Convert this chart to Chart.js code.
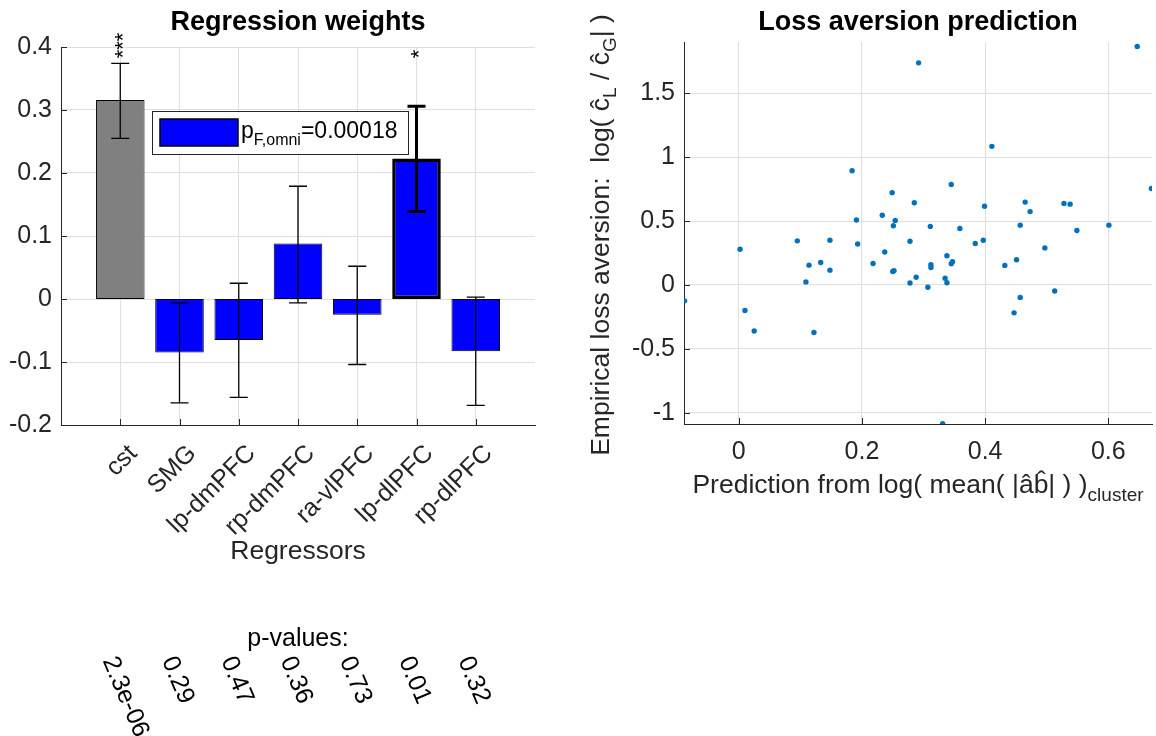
<!DOCTYPE html>
<html lang="en">
<head>
<meta charset="UTF-8">
<title>Regression weights / Loss aversion prediction</title>
<script src="https://cdn.jsdelivr.net/npm/chart.js"></script>
<style>
  body { margin: 0; background: #fff; }
  #wrap { position: relative; width: 1156px; height: 736px; }
  canvas { position: absolute; top: 0; }
  #weightsChart { left: 0; }
  #lossChart { left: 578px; }
</style>
</head>
<body>
<div id="wrap">
  <canvas id="weightsChart" width="578" height="736"></canvas>
  <canvas id="lossChart" width="578" height="736"></canvas>
</div>
<script>
// --- left panel: regression weights ---
const regressors = ['cst', 'SMG', 'lp-dmPFC', 'rp-dmPFC', 'ra-vlPFC', 'lp-dlPFC', 'rp-dlPFC'];
const weights    = [0.316, -0.085, -0.065, 0.088, -0.025, 0.223, -0.083];
const errLow     = [0.255, -0.165, -0.156, -0.006, -0.104, 0.139, -0.169];
const errHigh    = [0.374, -0.006, 0.025, 0.179, 0.052, 0.306, 0.003];
const pValues    = ['2.3e-06', '0.29', '0.47', '0.36', '0.73', '0.01', '0.32'];
const stars      = ['***', '', '', '', '', '*', ''];
const starLevel  = 0.382;
const pOmni      = '0.00018';

// --- right panel: loss aversion prediction ---
const predX = [0.292, 0.647, 0.411, 0.184, 0.670, 0.345, 0.249, 0.285, 0.399, 0.465,
               0.473, 0.528, 0.538, 0.233, 0.191, 0.254, 0.251, 0.311, 0.359, 0.457,
               0.549, 0.601, 0.095, 0.148, 0.002, 0.193, 0.278, 0.384, 0.397, 0.497,
               0.237, 0.114, 0.133, 0.148, 0.109, 0.218, 0.250, 0.252, 0.278, 0.288,
               0.307, 0.312, 0.312, 0.338, 0.335, 0.338, 0.345, 0.347, 0.432, 0.451,
               0.457, 0.447, 0.513, -0.088, 0.010, 0.025, 0.122, 0.331];
const empY  = [1.737, 1.865, 1.084, 0.894, 0.754, 0.786, 0.722, 0.643, 0.616, 0.648,
               0.574, 0.638, 0.632, 0.545, 0.508, 0.505, 0.463, 0.458, 0.442, 0.468,
               0.426, 0.468, 0.345, 0.350, 0.280, 0.320, 0.342, 0.324, 0.350, 0.290,
               0.258, 0.155, 0.176, 0.116, 0.024, 0.168, 0.105, 0.112, 0.016, 0.060,
               -0.018, 0.158, 0.137, 0.229, 0.053, 0.018, 0.166, 0.182, 0.153, 0.197,
               -0.097, -0.218, -0.047, -0.124, -0.200, -0.360, -0.371, -1.085];

const INK = '#262626';
const GRID = '#dfdfdf';
const FONT = "'Liberation Sans', Arial, Helvetica, sans-serif";
const TICK = 25, LABEL = 26.5, TITLE = 27;
Chart.defaults.font.family = FONT;
Chart.defaults.color = INK;

const isStrong = i => i > 0 && parseFloat(pValues[i]) < 0.05;
const fmt = v => String(Math.round(v * 100) / 100);

// text with sub-scripts: parts = [text, size, shift]
function drawRich(ctx, parts, x, y, angle, align) {
  ctx.save();
  ctx.translate(x, y);
  ctx.rotate(angle);
  ctx.textAlign = 'left';
  ctx.textBaseline = 'alphabetic';
  let total = 0;
  parts.forEach(p => { ctx.font = p[1] + 'px ' + FONT; total += ctx.measureText(p[0]).width; });
  let cx = align === 'left' ? 0 : -total / 2;
  parts.forEach(p => {
    ctx.font = p[1] + 'px ' + FONT;
    ctx.fillText(p[0], cx, p[2]);
    cx += ctx.measureText(p[0]).width;
  });
  ctx.restore();
}

// axes title centred over the plot box (not the canvas)
const boxTitle = {
  id: 'boxTitle',
  afterDraw(chart, args, opts) {
    const {ctx, chartArea: a} = chart;
    ctx.save();
    ctx.fillStyle = '#000';
    ctx.font = 'bold ' + TITLE + 'px ' + FONT;
    ctx.textAlign = 'center';
    ctx.textBaseline = 'middle';
    ctx.fillText(opts.text, (a.left + a.right) / 2, 23);
    ctx.restore();
  }
};

// matlab style ticks pointing into the axes
const inwardTicks = {
  id: 'inwardTicks',
  afterDatasetsDraw(chart) {
    const {ctx, chartArea: a, scales: {x, y}} = chart;
    ctx.save();
    ctx.strokeStyle = INK;
    ctx.lineWidth = 1;
    ctx.beginPath();
    x.ticks.forEach(t => {
      if (t.label === '') return;
      const px = Math.round(x.getPixelForValue(t.value)) + 0.5;
      ctx.moveTo(px, a.bottom);
      ctx.lineTo(px, a.bottom - 6);
    });
    y.ticks.forEach(t => {
      const py = Math.round(y.getPixelForValue(t.value)) + 0.5;
      ctx.moveTo(a.left, py);
      ctx.lineTo(a.left + 6, py);
    });
    ctx.stroke();
    ctx.restore();
  }
};

const weightsExtras = {
  id: 'weightsExtras',
  afterDatasetsDraw(chart) {
    const {ctx, scales: {x, y}} = chart;
    ctx.save();
    ctx.strokeStyle = '#000';
    // error bars
    weights.forEach((w, i) => {
      const px = x.getPixelForValue(i + 1);
      const lo = y.getPixelForValue(errLow[i]);
      const hi = y.getPixelForValue(errHigh[i]);
      ctx.lineWidth = isStrong(i) ? 3 : 1.3;
      ctx.beginPath();
      ctx.moveTo(px, lo); ctx.lineTo(px, hi);
      ctx.moveTo(px - 9, lo); ctx.lineTo(px + 9, lo);
      ctx.moveTo(px - 9, hi); ctx.lineTo(px + 9, hi);
      ctx.stroke();
    });
    // significance stars
    ctx.fillStyle = '#000';
    ctx.font = '22px ' + FONT;
    ctx.textAlign = 'left';
    ctx.textBaseline = 'alphabetic';
    stars.forEach((s, i) => {
      if (!s) return;
      ctx.save();
      ctx.translate(x.getPixelForValue(i + 1) + 9.5, y.getPixelForValue(starLevel));
      ctx.rotate(-Math.PI / 2);
      ctx.fillText(s, 0, 0);
      ctx.restore();
    });
    ctx.restore();
  },
  afterDraw(chart) {
    const {ctx, chartArea: a, scales: {x}} = chart;
    ctx.save();
    // legend
    ctx.fillStyle = '#fff';
    ctx.strokeStyle = INK;
    ctx.lineWidth = 1;
    ctx.fillRect(a.left + 91, a.top + 64, 256, 43);
    ctx.strokeRect(a.left + 91.5, a.top + 64.5, 256, 43);
    ctx.fillStyle = '#0000ff';
    ctx.strokeStyle = '#000';
    ctx.lineWidth = 1.5;
    ctx.fillRect(a.left + 99, a.top + 72, 78, 27);
    ctx.strokeRect(a.left + 99, a.top + 72, 78, 27);
    ctx.fillStyle = '#000';
    drawRich(ctx, [['p', 23, 0], ['F,omni', 16, 7], ['=' + pOmni, 23, 0]], a.left + 180, a.top + 91, 0, 'left');

    // axis label and p-values
    ctx.fillStyle = INK;
    ctx.font = LABEL + 'px ' + FONT;
    ctx.textAlign = 'center';
    ctx.textBaseline = 'middle';
    const cx = (a.left + a.right) / 2;
    ctx.fillText('Regressors', cx, a.bottom + 127);
    ctx.fillStyle = '#000';
    ctx.font = TICK + 'px ' + FONT;
    ctx.fillText('p-values:', cx, a.bottom + 214);
    ctx.textAlign = 'left';
    ctx.textBaseline = 'top';
    pValues.forEach((p, i) => {
      ctx.save();
      ctx.translate(x.getPixelForValue(i + 1), a.bottom + 228);
      ctx.rotate(67 * Math.PI / 180);
      ctx.fillText(p, 0, 0);
      ctx.restore();
    });
    ctx.restore();
  }
};

const lossTitles = {
  id: 'lossTitles',
  afterDraw(chart) {
    const {ctx, chartArea: a} = chart;
    ctx.save();
    ctx.fillStyle = INK;
    drawRich(ctx, [['Prediction from log( mean( |âb̂| ) )', LABEL, 0], ['cluster', 19, 8]],
      (a.left + a.right) / 2, a.bottom + 69, 0);
    drawRich(ctx, [['Empirical loss aversion:  log( ĉ', LABEL, 0], ['L', 19, 7], [' / ĉ', LABEL, 0], ['G', 19, 7], ['| )', LABEL, 0]],
      31, (a.top + a.bottom) / 2 + 2, -Math.PI / 2);
    ctx.restore();
  }
};

new Chart(document.getElementById('weightsChart'), {
  type: 'bar',
  data: {
    datasets: [{
      data: weights.map((w, i) => ({x: i + 1, y: w})),
      backgroundColor: ctx => ctx.dataIndex === 0 ? '#808080' : '#0000ff',
      borderColor: '#000',
      borderWidth: ctx => isStrong(ctx.dataIndex) ? 3.5 : 1,
      borderSkipped: false,
      barPercentage: 0.82,
      categoryPercentage: 1
    }]
  },
  options: {
    responsive: false,
    animation: false,
    layout: { padding: { left: 0, right: 43, top: 47, bottom: 0 } },
    plugins: {
      legend: { display: false },
      tooltip: { enabled: false },
      title: { display: false },
      boxTitle: { text: 'Regression weights' }
    },
    scales: {
      x: {
        type: 'linear', min: 0, max: 8, offset: false,
        afterFit: s => { s.height = 311; },
        grid: { offset: false, drawTicks: false, color: c => (c.tick.value > 0 && c.tick.value < 8) ? GRID : 'rgba(0,0,0,0)' },
        border: { color: INK },
        ticks: {
          stepSize: 1, autoSkip: false, maxRotation: 45, minRotation: 45,
          padding: 14, labelOffset: 13, color: INK, font: { size: TICK },
          callback: v => regressors[v - 1] || ''
        }
      },
      y: {
        min: -0.2, max: 0.4,
        afterFit: s => { s.width = 61; },
        grid: { drawTicks: false, color: c => c.tick.value === 0 ? INK : GRID },
        border: { color: INK },
        ticks: { stepSize: 0.1, padding: 9, color: INK, font: { size: TICK }, callback: fmt }
      }
    }
  },
  plugins: [inwardTicks, weightsExtras, boxTitle]
});

new Chart(document.getElementById('lossChart'), {
  type: 'scatter',
  data: {
    datasets: [{
      data: predX.map((v, i) => ({x: v, y: empY[i]})),
      backgroundColor: '#0072BD',
      borderWidth: 0,
      pointRadius: 2.7
    }]
  },
  options: {
    responsive: false,
    animation: false,
    layout: { padding: { left: 0, right: 0, top: 42, bottom: 0 } },
    plugins: {
      legend: { display: false },
      tooltip: { enabled: false },
      title: { display: false },
      boxTitle: { text: 'Loss aversion prediction' }
    },
    scales: {
      x: {
        min: -0.089, max: 0.671,
        afterFit: s => { s.height = 312; },
        grid: { drawTicks: false, color: GRID },
        border: { color: INK },
        ticks: { stepSize: 0.2, includeBounds: false, padding: 13, color: INK, font: { size: TICK }, callback: fmt }
      },
      y: {
        min: -1.087, max: 1.9,
        afterFit: s => { s.width = 106; },
        grid: { drawTicks: false, color: GRID },
        border: { color: INK },
        ticks: { stepSize: 0.5, includeBounds: false, padding: 9, color: INK, font: { size: TICK }, callback: fmt }
      }
    }
  },
  plugins: [inwardTicks, lossTitles, boxTitle]
});
</script>
</body>
</html>
